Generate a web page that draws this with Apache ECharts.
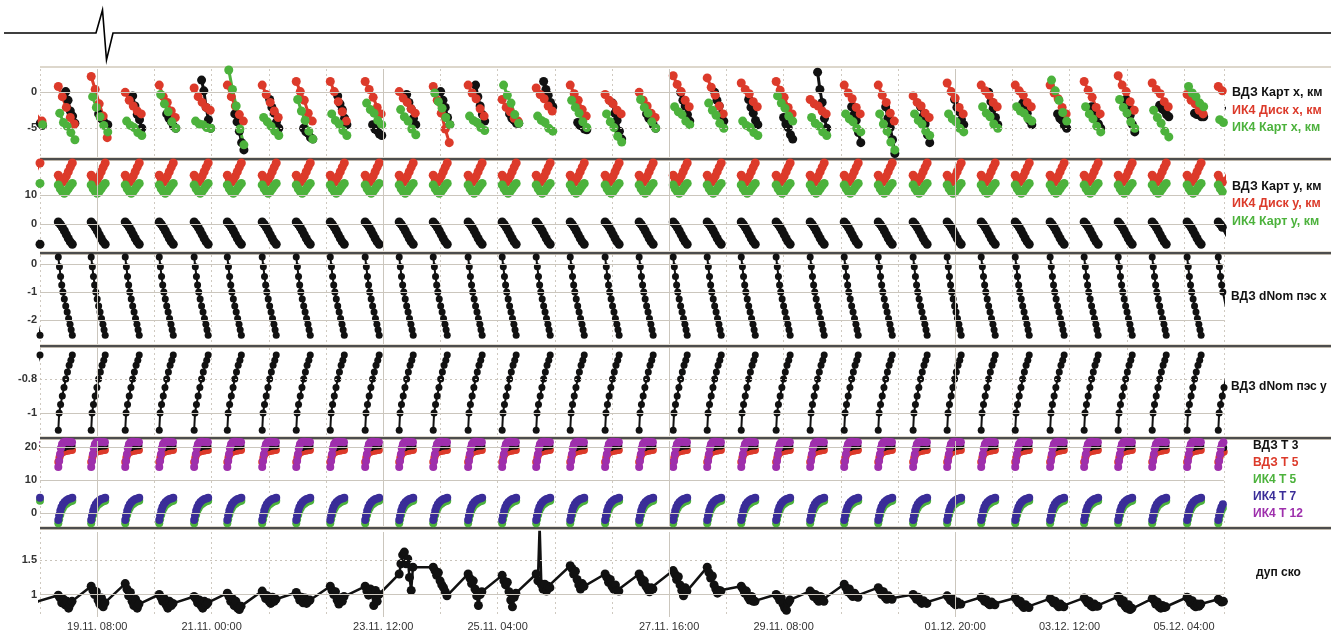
<!DOCTYPE html>
<html lang="ru">
<head>
<meta charset="UTF-8">
<title>ВДЗ / ИК4</title>
<script src="https://cdn.jsdelivr.net/npm/echarts@6/dist/echarts.min.js"></script>
<style>html,body{margin:0;padding:0;background:#fff}</style>
</head>
<body>
<div id="chart" style="width:1331px;height:632px;"></div>
<script>
// time in hours from 19.11 08:00; one entry per session (first one is cut at the left edge)
const sessionStart = [-24.9, -13.6, -2.1, 9.8, 21.7, 33.9, 45.5, 57.7, 69.6, 81.5, 93.7, 105.6, 117.5,
  129.7, 141.6, 153.5, 165.4, 177.6, 189.5, 201.4, 213.3, 225.2, 237.4, 249.3, 261.2, 273.1, 285.3,
  297.2, 309.1, 321.0, 333.2, 345.1, 357.0, 368.9, 381.1, 392.0];
const xLabelHours = [0, 40, 100, 140, 200, 240, 300, 340, 380];
const xSolidHours = [0, 100, 200, 300];

// panel 1: x, km
const dtX = [0, 1.4, 2.8, 4.2, 5.6];
const dtXgreen = [0.5, 1.8, 3.1, 4.4, 5.8];
const dtXblack = [2.6, 3.4, 4.2, 5.0, 5.8];
const vdzX = [
  [-3,-3.4,-3.9,-4.3,-4.6], [0.1,-1.1,-2.6,-3.3,-4.3], [-3,-3.6,-3.9,-4.4,-4.5], [-0.5,-1.9,-3.1,-3.8,-5],
  [-3,-3.6,-4.1,-4.7,-5], [1.7,0.2,-2.1,-3.8,-5], [-3,-4.1,-5.4,-7,-8], [-1,-2.1,-2.9,-4.1,-5],
  [-5,-5.5,-5.7,-6.3,-6.5], [-0.5,-1.6,-2.4,-3.6,-4.5], [-4.5,-5.1,-5.3,-5.8,-6], [-0.3,-1.4,-2.3,-3.6,-4.5],
  [0.1,-1.1,-2.1,-3.5,-4.5], [1,-0.6,-1.9,-3.1,-4], [-3,-3.6,-3.9,-4.3,-4.3], [1.5,0.4,-0.4,-1.4,-2],
  [-4.2,-4.6,-4.7,-5.1,-5.2], [-1.5,-2.9,-3.9,-5.4,-6.5], [-3,-3.6,-3.9,-4.6,-5], [0,-1.1,-1.9,-3.1,-4],
  [0,-1.1,-1.9,-3.1,-4], [-1,-2.1,-2.9,-3.9,-4.5], [-3.5,-4.4,-4.9,-5.9,-6.5], [2.8,0.4,-1.4,-3.6,-5],
  [-2,-3.1,-3.9,-5.6,-7], [-2,-3.6,-4.9,-6.6,-8.5], [-2,-3.4,-4.4,-5.9,-7], [-1,-2.1,-2.7,-3.8,-4.5],
  [0,-1.3,-2.2,-3.5,-4.5], [-1.5,-2.4,-2.9,-3.9,-4.5], [-3,-3.6,-3.9,-4.6,-5], [-2,-2.9,-3.4,-4.4,-5],
  [-1,-2.3,-3.2,-4.5,-5.5], [-1.8,-2.3,-2.5,-3.1,-3.4], [-2.9,-3.1,-3.1,-3.4,-3.4], [-2,-2.6,-2.9,-3.6,-4]
];
const ik4DiskX = [
  [-1,-1.8,-2.6,-3.4,-4], [0.8,-0.6,-2.1,-3.5,-4.4], [2.2,0.4,-1.6,-3.3,-6.3], [0,-1.1,-1.9,-2.6,-3],
  [1,-0.6,-1.4,-2.6,-3.5], [0.6,-0.6,-1.4,-2.1,-2.5], [1,-0.6,-1.9,-3.1,-4], [1,-0.3,-1.4,-2.6,-3.5],
  [1.5,0.1,-1.1,-2.9,-4], [1.5,0.1,-1.3,-2.7,-4], [1.5,0.4,-0.7,-2.1,-3], [0.1,-0.8,-1.4,-2.3,-2.9],
  [0.8,-1.1,-2.9,-5.1,-7], [1,-0.1,-0.9,-2.3,-3.3], [-1,-2.1,-2.7,-3.6,-4], [0.6,-0.3,-0.9,-1.9,-2.6],
  [1,-0.2,-1.1,-2.4,-3.3], [-0.3,-1.1,-1.6,-2.5,-3], [0,-1.1,-1.9,-2.9,-3.5], [2.3,1.1,0.1,-1.1,-2],
  [2,0.7,-0.4,-1.9,-3], [1.3,0.4,-0.2,-1.3,-2], [1.5,0.3,-0.7,-2.1,-3], [-1,-1.6,-1.9,-2.6,-3],
  [1,-0.1,-0.9,-2.1,-3], [1,-0.4,-1.4,-2.9,-4], [-0.5,-1.4,-1.9,-2.9,-3.5], [1.3,0.1,-0.8,-2.1,-3],
  [1,0.2,-0.4,-1.4,-2], [1,0.2,-0.4,-1.4,-2], [1,-0.1,-0.9,-2.1,-3], [1.5,0.3,-0.7,-2.1,-3],
  [2.3,1,0.1,-1.3,-2.5], [1.3,0.4,-0.2,-1.3,-2], [-0.3,-1.1,-1.6,-2.5,-3], [0.8,0.2,0,-0.7,-1]
];
const ik4KartX = [
  [-3,-3.5,-3.9,-4.2,-4.5], [-2.9,-4.2,-4.7,-5.6,-6.6], [-0.6,-2.1,-3.4,-4.6,-5.5], [-4,-4.6,-4.9,-5.6,-6],
  [-0.3,-1.6,-2.7,-4.1,-5], [-4,-4.4,-4.5,-4.9,-5], [3.1,0.4,-1.9,-5.1,-7.3], [-3.5,-4.1,-4.7,-5.4,-6],
  [-1,-2.6,-3.9,-5.4,-6.5], [-3,-3.9,-4.4,-5.3,-6], [-1.5,-2.4,-2.9,-3.9,-4.5], [-2.4,-3.4,-4,-5.1,-5.9],
  [-0.1,-1.3,-2.2,-3.5,-4.5], [-3.3,-3.9,-4.2,-4.9,-5.3], [1,-0.4,-1.5,-3.1,-4.3], [-3.3,-3.9,-4.2,-5,-5.4],
  [-1.1,-2.1,-2.9,-4.1,-4.9], [-3,-4.1,-4.9,-6.1,-6.9], [-1,-2.1,-2.9,-4.1,-5], [-2,-2.7,-3.1,-4,-4.5],
  [-1.5,-2.5,-3.2,-4.3,-5], [-4,-4.6,-4.9,-5.6,-6], [-0.5,-1.5,-2.2,-3.3,-4], [-3.5,-4.3,-4.7,-5.5,-6],
  [-3,-3.7,-4.1,-5,-5.5], [-3,-4.4,-5.4,-6.9,-8], [-3,-3.9,-4.4,-5.4,-6], [-3,-3.7,-4.1,-5,-5.5],
  [-2,-2.9,-3.4,-4.4,-5], [-2,-2.6,-2.9,-3.6,-4], [1.7,0.2,-1.1,-2.8,-4], [-2,-3,-3.7,-4.7,-5.5],
  [-1,-2.1,-2.9,-4.1,-5], [-2.5,-3.5,-4.3,-5.4,-6.2], [0.8,-0.1,-0.6,-1.5,-2], [-3.8,-4.2,-4.3,-4.8,-5]
];

// panel 2: y, km (same shape every session)
const dtY = [0, 0.7, 1.4, 2.1, 2.8, 3.5, 4.2, 4.9];
const vdzY = [0.8, 0, -1, -2.2, -3.5, -4.8, -6, -6.8];
const ik4DiskY = [16.8, 15.2, 14.4, 15.2, 16.5, 18, 19.6, 21];
const ik4KartY = [13.5, 12.2, 11.2, 10.6, 11.2, 12.2, 13.2, 14];

// panel 3 and 4: dNom
const dtNomX = [0, 0.4, 0.8, 1.2, 1.6, 2.1, 2.6, 3.1, 3.6, 4.1, 4.5, 4.9];
const nomX = [0.25, -0.1, -0.45, -0.75, -1.0, -1.25, -1.5, -1.72, -1.95, -2.15, -2.35, -2.55];
const dtNomY = [0, 0.3, 0.8, 1.4, 2.0, 2.6, 3.2, 3.8, 4.4, 4.9];
const nomY = [-1.1, -1.0, -0.95, -0.9, -0.85, -0.8, -0.76, -0.72, -0.69, -0.66];

// panel 5: temperatures
const dtT12 = [0, 0.3, 0.6, 0.9, 1.3, 1.8, 2.4, 3.0, 3.6, 4.2, 4.8];
const ik4T12 = [14, 15.8, 17.8, 19.6, 20.8, 21.4, 21.6, 21.6, 21.5, 21.5, 21.4];
const dtT5 = [0, 0.4, 0.8, 1.3, 1.9, 2.6, 3.3, 4.0, 4.8];
const vdzT5 = [15.5, 16.8, 17.8, 18.4, 18.6, 18.8, 18.9, 19.0, 19.1];
const dtT3 = [1.9, 2.6, 3.3, 4.0, 4.8];
const vdzT3 = [19.8, 20.1, 20.2, 20.3, 20.3];
const dtT7 = [0, 0.3, 0.7, 1.1, 1.6, 2.2, 2.9, 3.6, 4.3, 4.9];
const ik4T7 = [-2, -0.6, 0.8, 1.8, 2.7, 3.4, 3.9, 4.3, 4.5, 4.7];
const ik4T5 = [-3, -1.8, -0.4, 0.7, 1.6, 2.4, 2.9, 3.3, 3.6, 3.8];

// panel 6: дуп ско
const dtSko = [0, 0.6, 1.2, 1.8, 2.4, 3.0, 3.6, 4.2, 4.8];
const dupSko = [
  [0.96,0.93,0.9,0.92,0.88,0.9,0.87,0.9,0.91], [0.99,0.95,0.88,0.93,0.85,0.9,0.8,0.86,0.9],
  [1.12,1.06,1.0,1.04,0.92,0.86,0.95,0.82,0.88], [1.16,1.08,0.98,1.03,0.9,0.84,0.93,0.8,0.86],
  [1.0,0.96,0.9,0.94,0.85,0.8,0.9,0.84,0.87], [0.97,0.94,0.88,0.92,0.84,0.8,0.9,0.85,0.88],
  [1.02,0.97,0.9,0.94,0.84,0.9,0.8,0.78,0.83], [1.05,1.0,0.94,0.98,0.9,0.87,0.96,0.9,0.93],
  [1.03,0.98,0.92,0.96,0.88,0.95,0.87,0.9,0.92], [1.12,1.06,1.0,1.04,0.92,0.86,0.95,0.9,0.97],
  [1.12,1.05,0.99,1.08,1.02,0.84,1.06,0.9,1.0], [1.3,1.45,1.58,1.62,1.45,1.52,1.25,1.06,1.4],
  [1.4,1.35,1.28,1.32,1.2,1.14,1.1,1.04,0.98], [1.3,1.24,1.16,1.2,1.08,0.98,0.84,1.0,1.04],
  [1.28,1.2,1.14,1.18,1.04,0.92,0.82,0.96,1.02], [1.3,1.2,2.0,1.15,1.08,1.15,1.05,1.12,1.1],
  [1.42,1.38,1.3,1.34,1.22,1.14,1.08,1.16,1.12], [1.3,1.25,1.18,1.22,1.12,1.08,1.14,1.06,1.05],
  [1.3,1.24,1.18,1.2,1.12,1.08,1.04,1.1,1.08], [1.35,1.3,1.22,1.26,1.14,1.06,0.98,1.1,1.05],
  [1.4,1.32,1.24,1.27,1.14,1.08,1.02,1.06,1.05], [1.12,1.08,1.02,1.05,0.96,0.92,0.97,0.9,0.9],
  [1.0,0.97,0.92,0.95,0.86,0.8,0.77,0.88,0.92], [1.05,1.02,0.97,1.0,0.93,0.9,0.97,0.92,0.9],
  [1.15,1.1,1.04,1.08,1.0,0.97,1.02,0.98,0.96], [1.1,1.06,1.0,1.04,0.96,0.93,0.98,0.94,0.93],
  [1.0,0.97,0.93,0.96,0.9,0.87,0.91,0.88,0.87], [0.98,0.95,0.91,0.94,0.87,0.85,0.89,0.86,0.86],
  [0.96,0.94,0.9,0.92,0.87,0.85,0.89,0.86,0.85], [0.95,0.92,0.88,0.9,0.84,0.81,0.85,0.82,0.81],
  [0.94,0.92,0.88,0.9,0.85,0.82,0.86,0.83,0.82], [0.95,0.92,0.88,0.9,0.84,0.82,0.86,0.83,0.83],
  [0.97,0.94,0.88,0.91,0.83,0.8,0.85,0.78,0.8], [0.94,0.92,0.86,0.89,0.82,0.8,0.84,0.81,0.82],
  [0.96,0.93,0.88,0.91,0.84,0.82,0.86,0.83,0.86], [0.93,0.91,0.89,0.9,0.86,0.86,0.88,0.87,0.87]
];

// axis ticks shown per panel
const yLabels = [[0, -5], [10, 0], [0, -1, -2], [-0.8, -1], [20, 10, 0], [1.5, 1]];
const ySolid = [[0], [10, 0], [0, -1, -2], [-1], [20, 10, 0], [1]];
const yDotted = [[-5], [], [], [-0.8], [], [1.5]];
const yRange = [[-8.99, 3.24], [-9.11, 21.33], [-2.86, 0.32], [-1.134, -0.619], [-3.83, 21.81], [0.671, 1.914]];

const legendNames = [
  ['ВДЗ Карт x, км', 'ИК4 Диск x, км', 'ИК4 Карт x, км'],
  ['ВДЗ Карт y, км', 'ИК4 Диск y, км', 'ИК4 Карт y, км'],
  ['ВДЗ dNom пэс x'],
  ['ВДЗ dNom пэс y'],
  ['ВДЗ Т 3', 'ВДЗ Т 5', 'ИК4 Т 5', 'ИК4 Т 7', 'ИК4 Т 12'],
  ['дуп ско']
];

const BLACK = '#111', RED = '#dc3a2a', GREEN = '#4cb23c', NAVY = '#3a2d98', PURPLE = '#9e2fac';

const T0 = Date.UTC(2012, 10, 19, 8);
function hourLabel(h) {
  const d = new Date(T0 + h * 3600000);
  const p = n => String(n).padStart(2, '0');
  return p(d.getUTCDate()) + '.' + p(d.getUTCMonth() + 1) + '. ' + p(d.getUTCHours()) + ':' + p(d.getUTCMinutes());
}

// same pattern placed at every session, gap between sessions
function repeated(dt, vals) {
  const out = [];
  sessionStart.forEach(s => {
    dt.forEach((d, i) => out.push([s + d, vals[i]]));
    out.push([s + dt[dt.length - 1] + 0.5, null]);
  });
  return out;
}
function bySession(dt, rows, gap) {
  const out = [];
  rows.forEach((row, k) => {
    row.forEach((v, i) => out.push([sessionStart[k] + dt[i], v]));
    if (gap) out.push([sessionStart[k] + dt[dt.length - 1] + 0.5, null]);
  });
  return out;
}

const gridBox = [[69, 88], [162, 89], [255, 89], [348, 88], [441, 85], [532, 87]];
const grids = gridBox.map(b => ({ left: 40, right: 107, top: b[0], height: b[1] }));

const FONT = 'Liberation Sans';
const xAxes = grids.map((g, i) => ({
  gridIndex: i, type: 'value', min: -20, max: 394, interval: 20,
  axisLine: { show: false }, axisTick: { show: false },
  axisLabel: {
    show: i === 5, color: '#333', fontSize: 11, fontFamily: FONT, margin: 4,
    formatter: v => xLabelHours.indexOf(v) >= 0 ? hourLabel(v) : ''
  },
  splitLine: { show: true, lineStyle: { color: '#cfc9c0', type: [2, 3], width: 1 } }
}));
const yAxes = grids.map((g, i) => ({
  gridIndex: i, type: 'value', min: yRange[i][0], max: yRange[i][1], splitNumber: 3,
  axisLine: { show: false }, axisTick: { show: false }, splitLine: { show: false },
  axisLabel: {
    color: '#333', fontSize: 11, fontWeight: 'bold', fontFamily: FONT, margin: 3,
    showMinLabel: false, showMaxLabel: false,
    formatter: v => yLabels[i].some(l => Math.abs(l - v) < 1e-6) ? String(Math.round(v * 10) / 10) : ''
  }
}));

function ser(i, data, color, size, lw) {
  return {
    type: 'line', xAxisIndex: i, yAxisIndex: i, data, symbol: 'circle', symbolSize: size,
    showSymbol: true, showAllSymbol: true, connectNulls: false, silent: true, animation: false,
    itemStyle: { color }, lineStyle: { color, width: lw }, z: 3
  };
}
// grid lines under the data
function gridLines(i) {
  const data = [];
  ySolid[i].forEach(v => data.push({ yAxis: v, lineStyle: { type: 'solid', color: '#cbc6bd', width: 1 } }));
  yDotted[i].forEach(v => data.push({ yAxis: v, lineStyle: { type: [2, 3], color: '#c9c3ba', width: 1 } }));
  xSolidHours.forEach(v => data.push({ xAxis: v, lineStyle: { type: 'solid', color: '#cbc6bd', width: 1 } }));
  return {
    type: 'line', xAxisIndex: i, yAxisIndex: i, data: [], z: 1, silent: true, animation: false,
    markLine: { silent: true, symbol: ['none', 'none'], label: { show: false }, animation: false, data }
  };
}

const series = [0, 1, 2, 3, 4, 5].map(gridLines).concat([
  ser(0, bySession(dtXblack, vdzX, true), BLACK, 9, 3),
  ser(0, bySession(dtX, ik4DiskX, true), RED, 9, 3),
  ser(0, bySession(dtXgreen, ik4KartX, true), GREEN, 9, 3),
  ser(1, repeated(dtY, vdzY), BLACK, 9, 3),
  ser(1, repeated(dtY, ik4DiskY), RED, 9, 3),
  ser(1, repeated(dtY, ik4KartY), GREEN, 9, 3),
  ser(2, repeated(dtNomX, nomX), BLACK, 7, 2),
  ser(3, repeated(dtNomY, nomY), BLACK, 7, 2),
  ser(4, repeated(dtT7, ik4T5), GREEN, 8, 2),
  ser(4, repeated(dtT7, ik4T7), NAVY, 8, 2),
  ser(4, repeated(dtT5, vdzT5), RED, 8, 2),
  ser(4, repeated(dtT3, vdzT3), BLACK, 7, 2),
  ser(4, repeated(dtT12, ik4T12), PURPLE, 8, 2),
  ser(5, bySession(dtSko, dupSko, false), BLACK, 9, 2.5)
]);

const graphic = [];
// panel frame and separators
graphic.push({ type: 'rect', shape: { x: 40, y: 66, width: 1291, height: 2 }, style: { fill: '#ddd7cc' }, silent: true });
[158, 252, 345, 437, 527].forEach(y => {
  graphic.push({ type: 'rect', shape: { x: 40, y: y - 1, width: 1291, height: 1 }, style: { fill: '#e2ddd3' }, silent: true });
  graphic.push({ type: 'rect', shape: { x: 40, y: y, width: 1291, height: 2 }, style: { fill: '#4d4d4d' }, silent: true });
  graphic.push({ type: 'rect', shape: { x: 40, y: y + 2, width: 1291, height: 1 }, style: { fill: '#bdb6aa' }, silent: true });
});
// break mark at the top
graphic.push({
  type: 'polyline', silent: true,
  shape: { points: [[4, 33], [96, 33], [102.5, 10], [106.5, 60], [113, 33], [1331, 33]] },
  style: { stroke: '#000', lineWidth: 1.6, fill: null }
});
// right-hand captions
const legendColors = [
  [BLACK, RED, GREEN], [BLACK, RED, GREEN], [BLACK], [BLACK], [BLACK, RED, GREEN, NAVY, PURPLE], [BLACK]
];
const legendPos = [
  { x: 1232, y: [93, 110.5, 127.5], size: 12.5 },
  { x: 1232, y: [186.5, 204, 221.5], size: 12.5 },
  { x: 1231, y: [297], size: 12 },
  { x: 1231, y: [387], size: 12 },
  { x: 1253, y: [446, 463, 480, 497, 514], size: 12 },
  { x: 1256, y: [573], size: 12 }
];
legendNames.forEach((names, p) => names.forEach((t, j) => graphic.push({
  type: 'text', x: legendPos[p].x, y: legendPos[p].y[j], silent: true, z: 10,
  style: { text: t, fill: legendColors[p][j], font: 'bold ' + legendPos[p].size + 'px "' + FONT + '"', verticalAlign: 'middle' }
})));

const chart = echarts.init(document.getElementById('chart'));
chart.setOption({
  animation: false,
  backgroundColor: '#fff',
  grid: grids,
  xAxis: xAxes,
  yAxis: yAxes,
  series,
  graphic
});
</script>
</body>
</html>
